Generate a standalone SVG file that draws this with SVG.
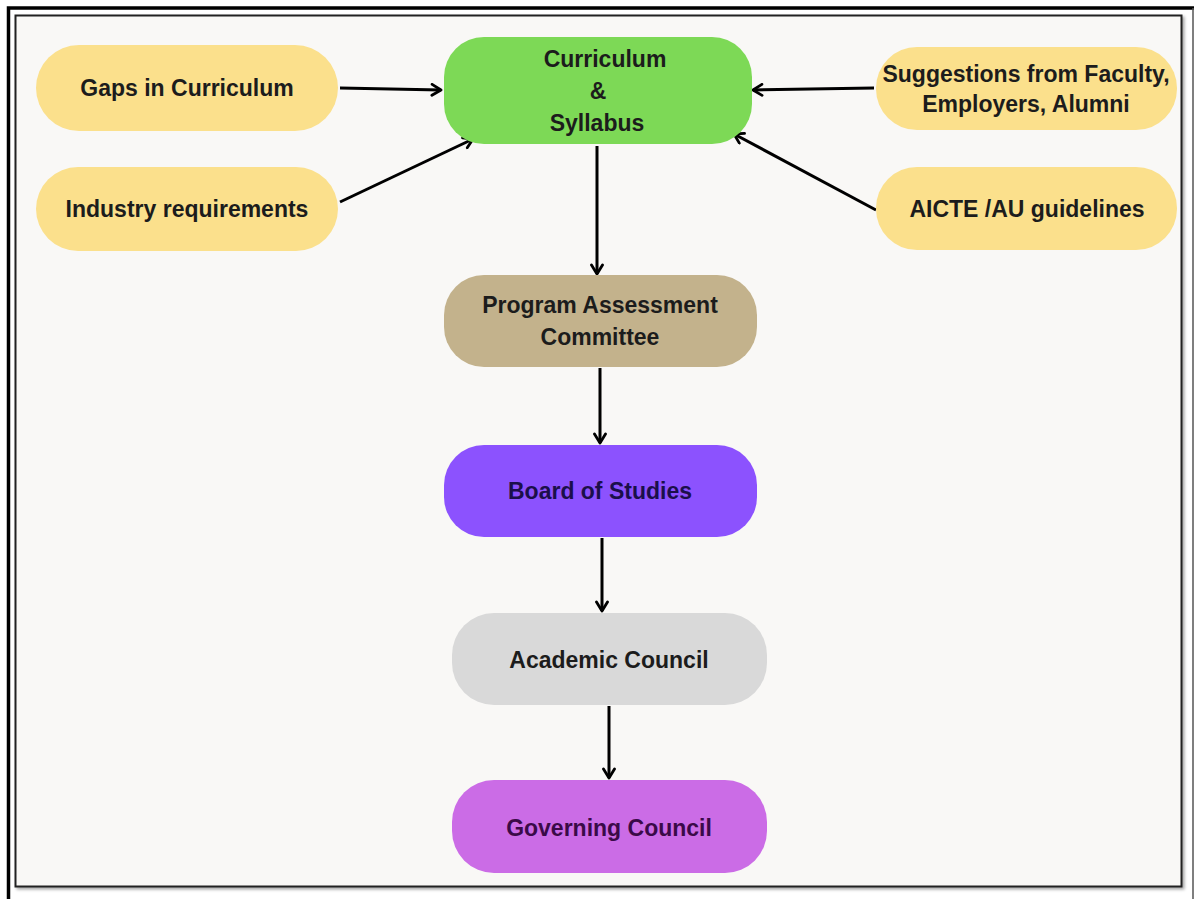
<svg xmlns="http://www.w3.org/2000/svg" width="1196" height="899" viewBox="0 0 1196 899">
<defs>
<marker id="arr" viewBox="0 0 14 14" refX="12" refY="7" markerWidth="14" markerHeight="14" markerUnits="userSpaceOnUse" orient="auto">
<path d="M3,1.5 L12,7 L3,12.5" fill="none" stroke="#000" stroke-width="2.8" stroke-linecap="round" stroke-linejoin="round"/>
</marker>
<filter id="sh" x="-5%" y="-5%" width="110%" height="110%">
<feDropShadow dx="2" dy="2" stdDeviation="1.5" flood-color="#000" flood-opacity="0.35"/>
</filter>
</defs>
<style>
.t{font-family:"Liberation Sans",Arial,sans-serif;font-weight:bold;font-size:23px;text-anchor:middle;fill:#1c1c1c}
.c{stroke:#000;stroke-width:3;fill:none;marker-end:url(#arr)}
.y{fill:#fbe08c}
</style>
<rect x="0" y="0" width="1196" height="899" fill="#ffffff"/>
<path d="M8.5,899 L8.5,8 L1194,8" fill="none" stroke="#000" stroke-width="3.5"/>
<line x1="1193" y1="8" x2="1193" y2="899" stroke="#555" stroke-width="1.5"/>
<rect x="15.5" y="15.5" width="1166" height="871" fill="#f9f8f6" stroke="#222" stroke-width="2" filter="url(#sh)"/>

<g id="connectors">
<line class="c" x1="340" y1="88" x2="441" y2="90"/>
<line class="c" x1="340" y1="202" x2="473" y2="139"/>
<line class="c" x1="874" y1="88" x2="753" y2="90"/>
<line class="c" x1="876" y1="210" x2="734" y2="134"/>
<line class="c" x1="597" y1="146" x2="597" y2="274"/>
<line class="c" x1="600" y1="368" x2="600" y2="443"/>
<line class="c" x1="602" y1="538" x2="602" y2="611"/>
<line class="c" x1="609" y1="706" x2="609" y2="778"/>
</g>

<g id="gaps">
<rect class="y" x="36" y="45" width="302" height="86" rx="43"/>
<text class="t" x="187" y="96">Gaps in Curriculum</text>
</g>
<g id="industry">
<rect class="y" x="36" y="167" width="302" height="84" rx="42"/>
<text class="t" x="187" y="217">Industry requirements</text>
</g>
<g id="curriculum">
<rect x="444" y="37" width="308" height="107" rx="40" fill="#7dd956"/>
<text class="t" x="605" y="67">Curriculum</text>
<text class="t" x="598" y="99">&amp;</text>
<text class="t" x="597" y="131">Syllabus</text>
</g>
<g id="suggestions">
<rect class="y" x="876" y="47" width="301" height="83" rx="41"/>
<text class="t" x="1026" y="82">Suggestions from Faculty,</text>
<text class="t" x="1026" y="112">Employers, Alumni</text>
</g>
<g id="aicte">
<rect class="y" x="876" y="167" width="301" height="83" rx="41"/>
<text class="t" x="1027" y="217">AICTE /AU guidelines</text>
</g>
<g id="pac">
<rect x="444" y="275" width="313" height="92" rx="40" fill="#c3b28c"/>
<text class="t" x="600" y="313">Program Assessment</text>
<text class="t" x="600" y="345">Committee</text>
</g>
<g id="bos">
<rect x="444" y="445" width="313" height="92" rx="40" fill="#8c52fe"/>
<text class="t" x="600" y="499" style="fill:#1b0f4a">Board of Studies</text>
</g>
<g id="academic">
<rect x="452" y="613" width="315" height="92" rx="42" fill="#d9d9d9"/>
<text class="t" x="609" y="668">Academic Council</text>
</g>
<g id="governing">
<rect x="452" y="780" width="315" height="93" rx="42" fill="#cb6ce6"/>
<text class="t" x="609" y="836" style="fill:#3a0a48">Governing Council</text>
</g>
</svg>
